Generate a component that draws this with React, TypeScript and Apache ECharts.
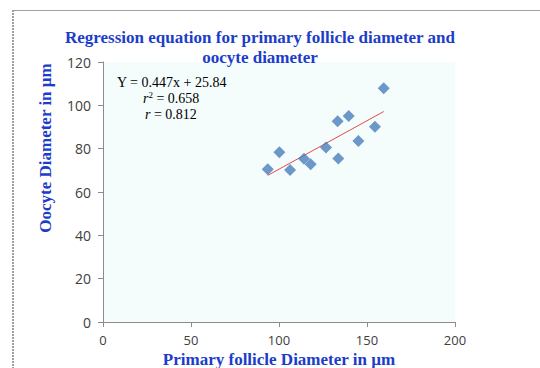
import React, { useEffect, useRef } from "react";
import * as echarts from "echarts";

const follicleDiameter = [93.6, 100.2, 106.3, 114.2, 118.0, 126.7, 133.3, 133.7, 139.6, 145.1, 154.5, 159.5];
const oocyteDiameter = [70.5, 78.3, 70.2, 75.4, 72.8, 80.5, 92.6, 75.5, 95.1, 83.5, 90.1, 107.9];
const slope = 0.447;
const intercept = 25.84;
const xTicks = [0, 50, 100, 150, 200];
const yTicks = [0, 20, 40, 60, 80, 100, 120];

const titleLines = ["Regression equation for primary follicle diameter and", "oocyte diameter"];
const xName = "Primary follicle Diameter in µm";
const yName = "Oocyte Diameter in µm";

export default function App() {
  const ref = useRef<HTMLDivElement>(null);
  useEffect(() => {
    if (!ref.current) return;
    const chart = echarts.init(ref.current, null, { renderer: "svg" });
    const pts = follicleDiameter.map((x, i) => [x, oocyteDiameter[i]]);
    const xMin = Math.min(...follicleDiameter);
    const xMax = Math.max(...follicleDiameter);
    const fit = [
      [xMin, slope * xMin + intercept],
      [xMax, slope * xMax + intercept],
    ];
    const serif = "'Liberation Serif', 'DejaVu Serif', serif";
    const blue = "#1c3dc9";
    chart.setOption({
      animation: false,
      backgroundColor: "#ffffff",
      title: {
        text: titleLines.join("\n"),
        left: 255,
        top: 22,
        textAlign: "center",
        textStyle: { fontFamily: serif, fontSize: 17, fontWeight: "bold", color: blue, lineHeight: 20 },
      },
      grid: {
        left: 103,
        right: 85,
        top: 62,
        bottom: 46,
        show: true,
        backgroundColor: "#f4fcfc",
        borderWidth: 0,
      },
      xAxis: {
        type: "value",
        min: xTicks[0],
        max: xTicks[xTicks.length - 1],
        interval: 50,
        splitLine: { show: false },
        axisLine: { show: true, lineStyle: { color: "#8c8c8c" } },
        axisTick: { show: true, length: 5, lineStyle: { color: "#8c8c8c" } },
        axisLabel: { fontFamily: "'Open Sans', sans-serif", fontSize: 13, color: "#404040", margin: 11, lineHeight: 14 },
      },
      yAxis: {
        type: "value",
        min: yTicks[0],
        max: yTicks[yTicks.length - 1],
        interval: 20,
        splitLine: { show: false },
        axisLine: { show: true, lineStyle: { color: "#8c8c8c" } },
        axisTick: { show: true, length: 5, lineStyle: { color: "#8c8c8c" } },
        axisLabel: { fontFamily: "'Open Sans', sans-serif", fontSize: 14, color: "#404040", margin: 12 },
      },
      series: [
        {
          type: "line",
          data: fit,
          symbol: "none",
          lineStyle: { color: "#e8484a", width: 1 },
          z: 1,
        },
        {
          type: "scatter",
          data: pts,
          symbol: "diamond",
          symbolSize: 12,
          itemStyle: { color: "#4a7ebb" },
          z: 2,
        },
      ],
      graphic: [
        { type: "line", shape: { x1: 13, y1: 10, x2: 13, y2: 368 }, style: { stroke: "#a0a0a0", lineWidth: 2, lineDash: [2, 1] } },
        { type: "line", shape: { x1: 12, y1: 10.5, x2: 540, y2: 10.5 }, style: { stroke: "#a0a0a0", lineWidth: 1 } },
        {
          type: "text",
          x: 45,
          y: 148,
          rotation: Math.PI / 2,
          style: { text: yName, font: `bold 17px ${serif}`, fill: blue, textAlign: "center", textVerticalAlign: "middle" },
        },
        {
          type: "text",
          x: 279,
          y: 359,
          style: { text: xName, font: `bold 17px ${serif}`, fill: blue, textAlign: "center", textVerticalAlign: "middle" },
        },
        {
          type: "text",
          x: 117,
          y: 82,
          style: { text: `Y = ${slope}x + ${intercept}`, font: `14px ${serif}`, fill: "#000", textVerticalAlign: "middle" },
        },
        {
          type: "text",
          x: 143,
          y: 98,
          style: {
            text: "{i|r}{s|2} = 0.658",
            font: `14px ${serif}`,
            fill: "#000",
            textVerticalAlign: "middle",
            rich: {
              i: { fontFamily: serif, fontSize: 14, fontStyle: "italic", fill: "#000" },
              s: { fontFamily: serif, fontSize: 9, fill: "#000", verticalAlign: "top", padding: [0, 0, 6, 0] },
            },
          },
        },
        {
          type: "text",
          x: 145,
          y: 114,
          style: {
            text: "{i|r} = 0.812",
            font: `14px ${serif}`,
            fill: "#000",
            textVerticalAlign: "middle",
            rich: { i: { fontFamily: serif, fontSize: 14, fontStyle: "italic", fill: "#000" } },
          },
        },
      ],
    });
    return () => chart.dispose();
  }, []);
  return <div ref={ref} style={{ position: "fixed", left: 0, top: 0, width: 540, height: 368 }} />;
}
